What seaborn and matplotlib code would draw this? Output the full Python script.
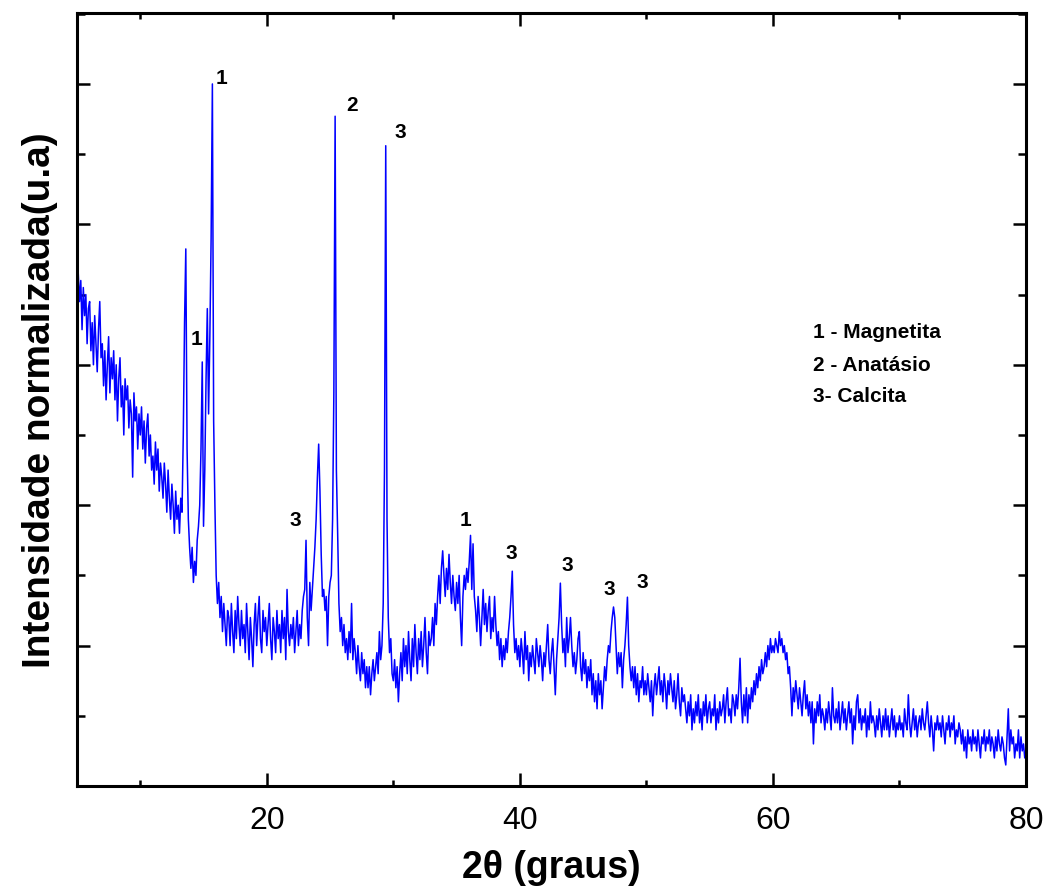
import numpy as np
import pandas as pd
import matplotlib
matplotlib.use("Agg")
import matplotlib.pyplot as plt
import seaborn as sns
from matplotlib.ticker import MultipleLocator

# ---- data, 2theta grid 5.0 .. 80.0, step 0.1 ----
two_theta = np.round(np.linspace(5.0, 80.0, 751), 1)

intensity = [
    # 5
    0.66, 0.73, 0.69, 0.72, 0.65, 0.71, 0.67, 0.70, 0.63, 0.68,
    # 6
    0.69, 0.62, 0.66, 0.60, 0.67, 0.63, 0.59, 0.65, 0.69, 0.61,
    # 7
    0.63, 0.57, 0.62, 0.55, 0.60, 0.64, 0.56, 0.61, 0.58, 0.62,
    # 8
    0.55, 0.60, 0.52, 0.58, 0.61, 0.54, 0.57, 0.50, 0.58, 0.55,
    # 9
    0.57, 0.51, 0.55, 0.53, 0.44, 0.56, 0.52, 0.54, 0.48, 0.53,
    # 10
    0.50, 0.54, 0.48, 0.52, 0.46, 0.51, 0.53, 0.47, 0.50, 0.45,
    # 11
    0.47, 0.43, 0.49, 0.45, 0.48, 0.42, 0.46, 0.44, 0.41, 0.46,
    # 12
    0.43, 0.39, 0.45, 0.41, 0.38, 0.43, 0.40, 0.36, 0.42, 0.38,
    # 13
    0.40, 0.36, 0.41, 0.39, 0.50, 0.66, 0.765, 0.48, 0.38, 0.34,
    # 14
    0.31, 0.34, 0.29, 0.32, 0.30, 0.35, 0.37, 0.40, 0.48, 0.604,
    # 15
    0.37, 0.45, 0.58, 0.68, 0.53, 0.64, 0.78, 1.00, 0.52, 0.40,
    # 16
    0.30, 0.26, 0.29, 0.24, 0.27, 0.22, 0.26, 0.23, 0.20, 0.25,
    # 17
    0.24, 0.20, 0.26, 0.22, 0.19, 0.25, 0.21, 0.27, 0.23, 0.20,
    # 18
    0.25, 0.21, 0.23, 0.19, 0.26, 0.22, 0.18, 0.24, 0.21, 0.17,
    # 19
    0.23, 0.26, 0.20, 0.24, 0.27, 0.21, 0.19, 0.25, 0.22, 0.24,
    # 20
    0.20, 0.23, 0.26, 0.21, 0.18, 0.24, 0.22, 0.19, 0.25, 0.21,
    # 21
    0.23, 0.19, 0.25, 0.21, 0.24, 0.18, 0.28, 0.22, 0.20, 0.23,
    # 22
    0.21, 0.24, 0.19, 0.22, 0.25, 0.20, 0.23, 0.21, 0.25, 0.27,
    # 23
    0.28, 0.35, 0.24, 0.20, 0.29, 0.25, 0.28, 0.31, 0.34, 0.38,
    # 24
    0.44, 0.487, 0.42, 0.33, 0.27, 0.28, 0.25, 0.27, 0.20, 0.27,
    # 25
    0.29, 0.30, 0.38, 0.56, 0.954, 0.45, 0.36, 0.26, 0.22, 0.24,
    # 26
    0.20, 0.23, 0.19, 0.21, 0.18, 0.22, 0.19, 0.26, 0.18, 0.21,
    # 27
    0.19, 0.16, 0.20, 0.17, 0.15, 0.19, 0.16, 0.18, 0.14, 0.17,
    # 28
    0.14, 0.17, 0.13, 0.16, 0.18, 0.15, 0.17, 0.19, 0.16, 0.22,
    # 29
    0.18, 0.20, 0.26, 0.45, 0.912, 0.38, 0.24, 0.19, 0.21, 0.16,
    # 30
    0.15, 0.18, 0.14, 0.17, 0.12, 0.16, 0.19, 0.15, 0.21, 0.17,
    # 31
    0.20, 0.16, 0.22, 0.18, 0.15, 0.21, 0.17, 0.23, 0.19, 0.16,
    # 32
    0.21, 0.18, 0.22, 0.17, 0.20, 0.24, 0.19, 0.16, 0.22, 0.20,
    # 33
    0.21, 0.24, 0.20, 0.26, 0.23, 0.27, 0.30, 0.26, 0.31, 0.335,
    # 34
    0.30, 0.27, 0.31, 0.28, 0.33, 0.29, 0.26, 0.30, 0.27, 0.25,
    # 35
    0.29, 0.26, 0.30, 0.24, 0.20, 0.27, 0.30, 0.28, 0.31, 0.29,
    # 36
    0.32, 0.357, 0.28, 0.345, 0.27, 0.25, 0.22, 0.27, 0.24, 0.20,
    # 37
    0.24, 0.28, 0.23, 0.26, 0.22, 0.25, 0.27, 0.21, 0.24, 0.22,
    # 38
    0.27, 0.23, 0.20, 0.22, 0.18, 0.21, 0.17, 0.20, 0.18, 0.21,
    # 39
    0.19, 0.22, 0.24, 0.27, 0.306, 0.23, 0.19, 0.21, 0.18, 0.20,
    # 40
    0.17, 0.21, 0.19, 0.16, 0.22, 0.18, 0.20, 0.15, 0.19, 0.17,
    # 41
    0.20, 0.18, 0.16, 0.21, 0.19, 0.17, 0.20, 0.18, 0.15, 0.19,
    # 42
    0.17, 0.20, 0.23, 0.18, 0.16, 0.19, 0.21, 0.17, 0.13, 0.18,
    # 43
    0.21, 0.24, 0.289, 0.23, 0.19, 0.21, 0.17, 0.24, 0.19, 0.21,
    # 44
    0.24, 0.20, 0.17, 0.19, 0.16, 0.18, 0.21, 0.22, 0.17, 0.15,
    # 45
    0.19, 0.16, 0.18, 0.14, 0.17, 0.15, 0.18, 0.13, 0.16, 0.12,
    # 46
    0.15, 0.11, 0.16, 0.13, 0.15, 0.11, 0.14, 0.17, 0.15, 0.18,
    # 47
    0.20, 0.19, 0.22, 0.24, 0.255, 0.24, 0.20, 0.16, 0.19, 0.17,
    # 48
    0.19, 0.14, 0.18, 0.20, 0.23, 0.269, 0.20, 0.17, 0.15, 0.17,
    # 49
    0.14, 0.17, 0.13, 0.16, 0.12, 0.15, 0.14, 0.17, 0.13, 0.15,
    # 50
    0.13, 0.16, 0.14, 0.12, 0.15, 0.10, 0.14, 0.16, 0.13, 0.15,
    # 51
    0.17, 0.13, 0.15, 0.12, 0.16, 0.14, 0.11, 0.15, 0.13, 0.16,
    # 52
    0.14, 0.12, 0.15, 0.11, 0.13, 0.16, 0.12, 0.10, 0.14, 0.12,
    # 53
    0.13, 0.11, 0.09, 0.12, 0.10, 0.13, 0.08, 0.11, 0.09, 0.12,
    # 54
    0.10, 0.13, 0.09, 0.11, 0.08, 0.12, 0.10, 0.13, 0.09, 0.11,
    # 55
    0.12, 0.09, 0.11, 0.10, 0.13, 0.08, 0.11, 0.09, 0.12, 0.10,
    # 56
    0.11, 0.13, 0.09, 0.12, 0.14, 0.10, 0.11, 0.09, 0.13, 0.12,
    # 57
    0.10, 0.13, 0.11, 0.14, 0.182, 0.12, 0.09, 0.13, 0.10, 0.14,
    # 58
    0.09, 0.13, 0.11, 0.14, 0.12, 0.15, 0.13, 0.16, 0.14, 0.17,
    # 59
    0.15, 0.18, 0.16, 0.17, 0.19, 0.17, 0.20, 0.18, 0.21, 0.19,
    # 60
    0.20, 0.19, 0.21, 0.20, 0.19, 0.22, 0.20, 0.21, 0.19, 0.20,
    # 61
    0.18, 0.19, 0.16, 0.17, 0.14, 0.10, 0.14, 0.12, 0.15, 0.13,
    # 62
    0.11, 0.14, 0.12, 0.10, 0.13, 0.15, 0.11, 0.13, 0.10, 0.12,
    # 63
    0.09, 0.12, 0.06, 0.11, 0.09, 0.12, 0.10, 0.13, 0.09, 0.11,
    # 64
    0.10, 0.08, 0.11, 0.09, 0.12, 0.10, 0.08, 0.14, 0.10, 0.09,
    # 65
    0.11, 0.09, 0.12, 0.08, 0.10, 0.12, 0.09, 0.11, 0.08, 0.10,
    # 66
    0.12, 0.09, 0.11, 0.06, 0.10, 0.08, 0.12, 0.13, 0.09, 0.11,
    # 67
    0.08, 0.10, 0.09, 0.11, 0.07, 0.10, 0.08, 0.12, 0.09, 0.10,
    # 68
    0.09, 0.07, 0.10, 0.08, 0.11, 0.09, 0.07, 0.10, 0.08, 0.11,
    # 69
    0.08, 0.10, 0.07, 0.09, 0.11, 0.08, 0.10, 0.07, 0.09, 0.08,
    # 70
    0.10, 0.08, 0.09, 0.07, 0.11, 0.09, 0.08, 0.13, 0.09, 0.07,
    # 71
    0.09, 0.11, 0.08, 0.10, 0.07, 0.09, 0.10, 0.08, 0.11, 0.09,
    # 72
    0.08, 0.10, 0.12, 0.09, 0.07, 0.10, 0.08, 0.05, 0.09, 0.08,
    # 73
    0.10, 0.08, 0.09, 0.07, 0.10, 0.08, 0.06, 0.09, 0.08, 0.10,
    # 74
    0.07, 0.09, 0.08, 0.10, 0.06, 0.08, 0.07, 0.09, 0.08, 0.06,
    # 75
    0.08, 0.05, 0.07, 0.04, 0.08, 0.06, 0.07, 0.05, 0.08, 0.06,
    # 76
    0.07, 0.05, 0.08, 0.06, 0.04, 0.07, 0.06, 0.08, 0.05, 0.07,
    # 77
    0.06, 0.08, 0.05, 0.07, 0.06, 0.04, 0.07, 0.05, 0.08, 0.06,
    # 78
    0.05, 0.07, 0.06, 0.04, 0.03, 0.07, 0.11, 0.05, 0.08, 0.06,
    # 79
    0.07, 0.04, 0.06, 0.05, 0.08, 0.04, 0.07, 0.05, 0.06, 0.04,
    # 80
    0.05,
]

# peak labels (phase number) and their positions
peak_labels = ["1", "1", "2", "3", "3", "1", "3", "3", "3", "3"]
peak_label_x = [16.46, 14.41, 26.74, 30.53, 22.23, 35.67, 39.31, 43.74, 47.06, 49.66]
peak_label_y = [1.009, 0.637, 0.970, 0.932, 0.380, 0.380, 0.332, 0.316, 0.281, 0.292]

legend_lines = ["1 - Magnetita", "2 - Anatásio", "3- Calcita"]

x_ticks = [20, 40, 60, 80]

df = pd.DataFrame({"two_theta": two_theta, "intensity": intensity})

sns.set_style("ticks")
plt.rcParams["font.family"] = ["Liberation Sans", "DejaVu Sans"]
plt.rcParams["text.color"] = "black"
plt.rcParams["axes.labelcolor"] = "black"
plt.rcParams["xtick.color"] = "black"
plt.rcParams["ytick.color"] = "black"
plt.rcParams["axes.edgecolor"] = "black"

fig = plt.figure(figsize=(10.46, 8.87), dpi=100)
ax = fig.add_axes([0.0736, 0.1127, 0.9073, 0.8715])

sns.lineplot(data=df, x="two_theta", y="intensity", ax=ax,
             color="#0000ff", linewidth=1.1, estimator=None, sort=False)

ax.set_xlim(5, 80)
ax.set_ylim(0, 1.101)
ax.set_xticks(x_ticks)
ax.xaxis.set_minor_locator(MultipleLocator(10))
ax.yaxis.set_major_locator(MultipleLocator(0.2))
ax.yaxis.set_minor_locator(MultipleLocator(0.1))
ax.set_yticklabels([])

for s in ax.spines.values():
    s.set_linewidth(2.2)
    s.set_color("black")
    s.set_visible(True)

ax.tick_params(axis="both", which="both", direction="in",
               top=True, right=True, width=1.8, color="black",
               labelcolor="black")
ax.tick_params(axis="both", which="major", length=9.5)
ax.tick_params(axis="x", which="minor", length=4)
ax.tick_params(axis="y", which="minor", length=5.8)
ax.tick_params(axis="x", which="major", labelsize=23, pad=14)

ax.set_xlabel("2θ (graus)", fontsize=27, fontweight="bold", labelpad=10,
              color="black")
ax.set_ylabel("Intensidade normalizada(u.a)", fontsize=28, fontweight="bold",
              labelpad=10, color="black")

for lab, lx, ly in zip(peak_labels, peak_label_x, peak_label_y):
    ax.text(lx, ly, lab, fontsize=15, fontweight="bold", ha="center",
            va="center", color="black")

legend_y = [0.647, 0.601, 0.556]
for txt, ly in zip(legend_lines, legend_y):
    ax.text(63.18, ly, txt, fontsize=15, fontweight="bold", ha="left",
            va="center", color="black")

fig.savefig("out.png", dpi=100)
